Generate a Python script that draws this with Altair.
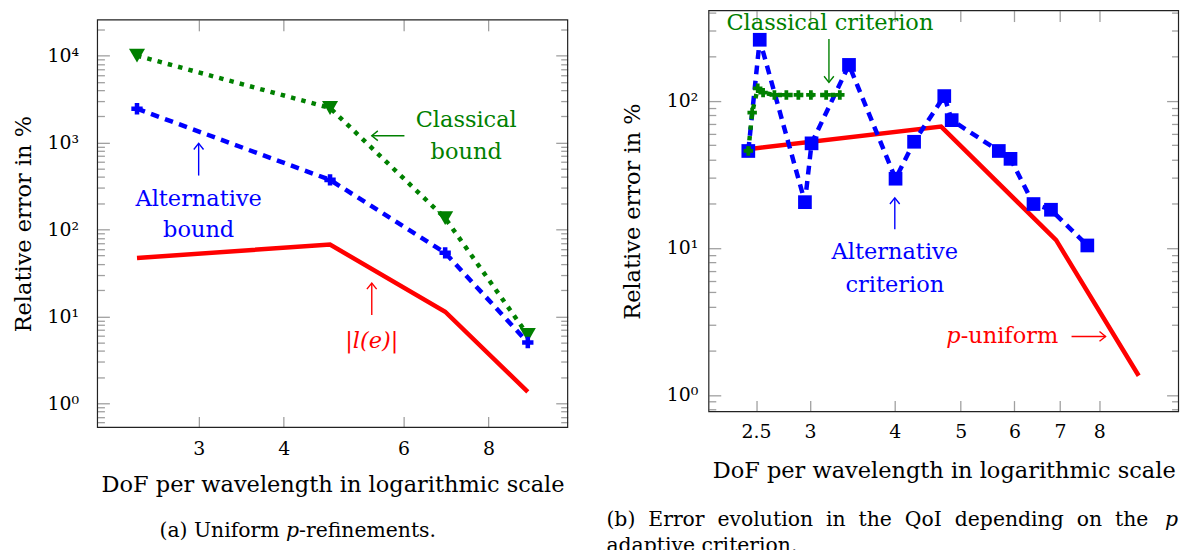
import altair as alt
import pandas as pd

# ---- values (log-log axes) ----
# (a) uniform p-refinements
dof_uniform = [2.435, 4.68, 6.91, 9.14]
classical_bound = [10000, 2500, 135, 6.1]
alternative_bound = [2450, 372, 53.8, 5.0]
goal_error = [47, 67, 11.3, 1.35]  # |l(e)|, also the p-uniform curve in (b)

# (b) p-adaptive criteria
dof_alt_criterion = [2.435, 2.531, 2.95, 3.017, 3.425, 4.01, 4.27,
                     4.73, 4.85, 5.69, 5.92, 6.40, 6.79, 7.68]
err_alt_criterion = [45.7, 261, 20.5, 51.5, 176, 29.6, 52.8,
                     108, 74.1, 45.7, 40.4, 19.9, 18.2, 10.4]
dof_cla_criterion = [2.435, 2.467, 2.514, 2.56, 2.66, 2.77, 2.885, 3.01, 3.17, 3.32]
err_cla_criterion = [45.7, 83.4, 122, 114, 110, 110, 110, 110, 110, 110]

# ticks
x_ticks_a = [3, 4, 6, 8]
x_ticks_b = [2.5, 3, 4, 5, 6, 7, 8]
decades_a = [1, 10, 100, 1000, 10000]
decades_b = [1, 10, 100]
minor_mult = [1, 2, 3, 4, 5, 6, 7, 8, 9]

# annotations in data coordinates
notes_a_text = ["Classical", "bound", "Alternative", "bound"]
notes_a_dof = [7.42, 7.42, 3.0, 3.0]
notes_a_err = [1824, 785, 223, 99.7]
notes_a_color = ["#008000", "#008000", "#0000ff", "#0000ff"]
arrows_a_dof = [6.02, 3.0, 5.39]
arrows_a_err = [1197, 417, 10.4]
arrows_a_dof2 = [5.39, 3.0, 5.39]
arrows_a_err2 = [1197, 977, 24.2]
arrows_a_angle = [180, 270, 270]
arrows_a_color = ["#008000", "#0000ff", "#ff0000"]

notes_b_text = ["Classical criterion", "Alternative", "criterion"]
notes_b_dof = [3.21, 4.0, 4.0]
notes_b_err = [340, 9.4, 5.62]
notes_b_color = ["#008000", "#0000ff", "#0000ff"]
arrows_b_dof = [3.20, 4.0, 7.28]
arrows_b_err = [264, 13.4, 2.5]
arrows_b_dof2 = [3.20, 4.0, 8.17]
arrows_b_err2 = [134, 21.9, 2.5]
arrows_b_angle = [90, 270, 0]
arrows_b_color = ["#008000", "#0000ff", "#ff0000"]

FONT = "'DejaVu Serif', 'Liberation Serif', serif"
GREEN, BLUE, RED = "#008000", "#0000ff", "#ff0000"
GREY = "#a0a0a0"
TICK_FS, TITLE_FS, CAP_FS = 19, 22.6, 20.5
X_DOMAIN = [2.13, 10.46]
HEAD = "M-1,-0.8L0,0L-1,0.8"
TOP_GAP = 9.3  # panel (a) sits lower than panel (b)

SUP = "'10' + ['\u2070','\u00b9','\u00b2','\u00b3','\u2074'][round(log(datum.value) / LN10)]"
MAJOR = "abs(log(datum.value) / LN10 - round(log(datum.value) / LN10)) < 0.001"


def log_ticks(lo, hi):
    out = []
    for k in range(-1, 5):
        for m in minor_mult:
            v = round(m * 10.0 ** k, 6)
            if lo <= v <= hi:
                out.append(v)
    return out


def label_axes(x_vals, y_vals, ylp, xlp, ytp, xtp, title_y):
    ax_x = alt.Axis(orient="bottom", values=x_vals, labelExpr="format(datum.value, '~g')",
                    ticks=False, tickSize=0, domain=False, grid=False, labelOverlap=False,
                    labelFlush=False, labelFont=FONT, labelFontSize=TICK_FS, labelColor="black",
                    labelPadding=xlp, title="DoF per wavelength in logarithmic scale",
                    titleFont=FONT, titleFontSize=TITLE_FS, titleFontWeight="normal",
                    titleColor="black", titlePadding=xtp)
    ax_y = alt.Axis(orient="left", values=y_vals, labelExpr=SUP, ticks=False, tickSize=0,
                    domain=False, grid=False, labelOverlap=False, labelFlush=False,
                    labelFont=FONT, labelFontSize=TICK_FS, labelColor="black",
                    labelPadding=ylp, title="Relative error in %", titleFont=FONT,
                    titleFontSize=TITLE_FS, titleFontWeight="normal", titleColor="black",
                    titlePadding=ytp, titleY=title_y)
    return ax_x, ax_y


def tick_axis(orient, offset, values, log_minor):
    size = alt.condition(MAJOR, alt.value(12), alt.value(7)) if log_minor else 11
    return alt.Axis(orient=orient, offset=offset, values=values, labels=False, domain=False,
                    grid=False, tickColor=GREY, tickWidth=1.3, tickSize=size, title=None)


def panel(W, H, top, y_domain, x_vals, y_decades, series, notes, arrows, captions,
          ylp, xlp, ytp, xtp, spacer_x):
    Ht = H + top
    xs = alt.Scale(type="log", domain=X_DOMAIN, nice=False)
    ys = alt.Scale(type="log", domain=y_domain, nice=False, range=[Ht, top])
    y_minor = log_ticks(*y_domain)
    ax_x, ax_y = label_axes(x_vals, y_decades, ylp, xlp, ytp, xtp, top + H / 2)
    axes = [
        (ax_x, ax_y),
        (tick_axis("top", -Ht, x_vals, False), tick_axis("right", -W, y_minor, True)),
        (tick_axis("bottom", -H, x_vals, False), tick_axis("left", -W, y_minor, True)),
    ]

    layers = []
    for i, (df, mark) in enumerate(series):
        axx, axy = axes[i] if i < len(axes) else (None, None)
        base = alt.Chart(df)
        base = base.mark_line(**mark) if "strokeWidth" in mark else base.mark_point(**mark)
        layers.append(base.encode(
            x=alt.X("dof:Q", scale=xs, axis=axx),
            y=alt.Y("err:Q", scale=ys, axis=axy),
        ))

    ndf, extra = notes
    layers.append(alt.Chart(ndf).mark_text(font=FONT, fontSize=TITLE_FS, baseline="middle").encode(
        x=alt.X("dof:Q", scale=xs, axis=None), y=alt.Y("err:Q", scale=ys, axis=None),
        text="text:N", color=alt.Color("color:N", scale=None)))
    for df, align, style in extra:
        layers.append(alt.Chart(df).mark_text(font=FONT, fontSize=TITLE_FS, baseline="middle",
                                              align=align, fontStyle=style, color=RED).encode(
            x=alt.X("dof:Q", scale=xs, axis=None), y=alt.Y("err:Q", scale=ys, axis=None),
            text="text:N"))

    layers.append(alt.Chart(arrows).mark_rule(strokeWidth=1.4).encode(
        x=alt.X("dof:Q", scale=xs, axis=None), y=alt.Y("err:Q", scale=ys, axis=None),
        x2="dof2:Q", y2="err2:Q", color=alt.Color("color:N", scale=None)))
    layers.append(alt.Chart(arrows).mark_point(shape=HEAD, filled=False, size=150,
                                               strokeWidth=1.4, opacity=1).encode(
        x=alt.X("dof2:Q", scale=xs, axis=None), y=alt.Y("err2:Q", scale=ys, axis=None),
        angle=alt.Angle("angle:Q", scale=None), color=alt.Color("color:N", scale=None)))

    for text, px, py, align, style in captions:
        layers.append(alt.Chart(pd.DataFrame({"t": [text]})).mark_text(
            font=FONT, fontSize=CAP_FS, baseline="middle", align=align, fontStyle=style,
            color="black").encode(x=alt.value(px), y=alt.value(py), text="t:N"))

    # plot frame
    layers.append(alt.Chart(pd.DataFrame({"t": [0]})).mark_rect(
        fillOpacity=0, stroke="#222222", strokeWidth=1.2).encode(
        x=alt.value(0), x2=alt.value(W), y=alt.value(top), y2=alt.value(Ht)))
    # invisible anchor fixing the left / top extent of the panel
    layers.append(alt.Chart(pd.DataFrame({"t": [0]})).mark_rule(opacity=0).encode(
        x=alt.value(spacer_x), x2=alt.value(spacer_x), y=alt.value(-5), y2=alt.value(0)))

    return alt.layer(*layers).resolve_axis(x="independent", y="independent").properties(
        width=W, height=Ht, view=alt.ViewBackground(stroke="transparent"))


# ---- panel (a) ----
df_goal = pd.DataFrame({"dof": dof_uniform, "err": goal_error})
df_cb = pd.DataFrame({"dof": dof_uniform, "err": classical_bound})
df_ab = pd.DataFrame({"dof": dof_uniform, "err": alternative_bound})
series_a = [
    (df_goal, dict(color=RED, strokeWidth=4.5)),
    (df_cb, dict(color=GREEN, strokeWidth=4.5, strokeDash=[4.5, 6.2])),
    (df_cb, dict(color=GREEN, shape="triangle-down", filled=True, size=260, opacity=1)),
    (df_ab, dict(color=BLUE, strokeWidth=4.5, strokeDash=[8.5, 6.5])),
    (df_ab, dict(color=BLUE, shape="cross", filled=True, size=130, opacity=1)),
]
notes_a = (
    pd.DataFrame({"text": notes_a_text, "dof": notes_a_dof, "err": notes_a_err,
                  "color": notes_a_color}),
    [(pd.DataFrame({"text": ["|l(e)|"], "dof": [5.39], "err": [5.26]}), "center", "italic")],
)
arrows_a = pd.DataFrame({"dof": arrows_a_dof, "err": arrows_a_err, "dof2": arrows_a_dof2,
                         "err2": arrows_a_err2, "angle": arrows_a_angle, "color": arrows_a_color})
cap_y_a = 523.7
captions_a = [
    ("(a) Uniform", 183.2, cap_y_a, "right", "normal"),
    ("p", 189.7, cap_y_a, "left", "italic"),
    ("-refinements.", 202.8, cap_y_a, "left", "normal"),
]
chart_a = panel(473, 410, TOP_GAP, [0.527, 25800], x_ticks_a, decades_a, series_a, notes_a,
                arrows_a, captions_a, ylp=19, xlp=12, ytp=12, xtp=15, spacer_x=-89)

# ---- panel (b) ----
df_alt = pd.DataFrame({"dof": dof_alt_criterion, "err": err_alt_criterion})
df_cla = pd.DataFrame({"dof": dof_cla_criterion, "err": err_cla_criterion})
series_b = [
    (df_goal, dict(color=RED, strokeWidth=4.5)),
    (df_alt, dict(color=BLUE, strokeWidth=4.5, strokeDash=[9, 6.5])),
    (df_alt, dict(color=BLUE, shape="square", filled=True, size=190, opacity=1)),
    (df_cla, dict(color=GREEN, strokeWidth=4.5, strokeDash=[4.5, 6.2])),
    (df_cla, dict(color=GREEN, shape="cross", filled=True, size=90, opacity=1)),
]
notes_b = (
    pd.DataFrame({"text": notes_b_text, "dof": notes_b_dof, "err": notes_b_err,
                  "color": notes_b_color}),
    [
        (pd.DataFrame({"text": ["p"], "dof": [5.0], "err": [2.5]}), "right", "italic"),
        (pd.DataFrame({"text": ["-uniform"], "dof": [5.0], "err": [2.5]}), "left", "normal"),
    ],
)
arrows_b = pd.DataFrame({"dof": arrows_b_dof, "err": arrows_b_err, "dof2": arrows_b_dof2,
                         "err2": arrows_b_err2, "angle": arrows_b_angle, "color": arrows_b_color})
captions_b = [
    ("(b) Error evolution in the QoI depending on the".replace(" ", " \u00a0"),
     -103, 512, "left", "normal"),
    ("p", 459, 512, "left", "italic"),
    ("adaptive criterion.", -103, 539, "left", "normal"),
]
chart_b = panel(472.5, 403.3, 0, [0.771, 412], x_ticks_b, decades_b, series_b, notes_b, arrows_b,
                captions_b, ylp=11, xlp=11, ytp=22, xtp=18, spacer_x=-100)

chart = alt.hconcat(chart_a, chart_b, spacing=36).properties(
    padding={"left": 0, "top": -5, "right": 0, "bottom": 0},
).configure_view(stroke="transparent")

chart.save("out.html", embed_options={"renderer": "svg", "actions": False})
